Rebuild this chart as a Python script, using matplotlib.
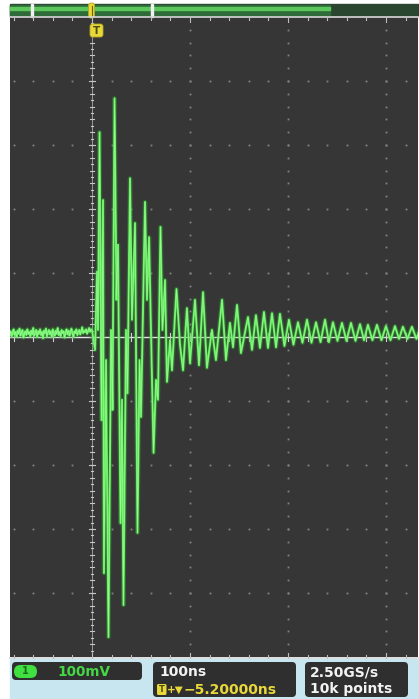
import numpy as np
import matplotlib
matplotlib.use('Agg')
import matplotlib.pyplot as plt
from matplotlib.patches import Rectangle, FancyBboxPatch

W, H = 419, 699

# ---------------- data ----------------
# time in ns relative to trigger, amplitude in mV (100 mV/div, 100 ns/div)
noise_t_ns = np.arange(-84, 0, 1.0)
noise_mv = [4, 9, 1, 7, 12, 3, 8, 0, 10, 5, 13, 2, 7, 11, -1, 6, 9, 3, 12, 5,
            8, 1, 10, 4, 14, 2, 7, 11, 0, 9, 5, 12, 3, 8, -2, 10, 6, 13, 1, 7,
            11, 4, 9, 0, 12, 6, 2, 10, 5, 14, 3, 8, 1, 11, 6, 9, -1, 7, 12, 4,
            10, 2, 8, 13, 5, 0, 9, 6, 12, 3, 7, 11, 4, 9, 15, 6, 10, 8, 12, 5,
            9, 14, 8, 12]

ring_t_ns = [0, 3.1, 5.1, 6.1, 7.7, 9.7, 11.2, 12.2, 14.3, 16.8, 19.4, 20.9,
             23.0, 25.0, 26.5, 29.1, 30.6, 32.1, 34.7, 36.2, 38.8, 40.8, 43.9,
             46.4, 48.5, 50.0, 54.1, 56.1, 58.2, 62.8, 65.3, 67.3, 69.9, 71.9,
             74.5, 76.5, 79.6, 81.6, 86.2, 89.8, 92.9, 96.9, 100.0, 105.1,
             109.2, 113.3, 117.3, 122.4, 126.5, 132.7, 136.7, 140.8, 143.9,
             148.0, 152.0]
ring_mv = [11, -20, 102, 11, 320, -130, 214, -369, -36, -469, 11, -114,
           373, 58, 144, -291, -98, -419, 11, -88, 248, 27, 178,
           -306, -36, -125, 211, 58, 156, -181, -67, -98, 172, 11,
           89, -70, -5, -52, 75, -12, -52, 45, -41, 58,
           -44, 70, -48, 11, -36, 58, -36, 22, -16,
           50, -25]

tail_t_ns = [159.2, 163.3, 167.3, 171.4, 175.5, 179.6, 183.7, 187.8, 191.8,
             196.4, 201.0, 205.6, 210.2, 214.8, 219.4, 224.0, 228.6, 233.2,
             237.8, 241.8, 245.9, 250.5, 255.1, 259.7, 264.3, 268.9, 273.5,
             277.6, 281.6, 286.2, 290.8, 295.4, 300.0, 304.6, 309.2, 313.3,
             317.3, 321.9, 326.5, 331.1, 334.0]
tail_mv = [31, -20, 34, -17, 39, -17, 37, -16, 36,
           -14, 27, -12, 23, -9, 27, -9, 23, -8,
           27, -8, 23, -6, 22, -6, 22, -6, 20,
           -5, 19, -5, 19, -5, 17, -5, 17, -3,
           16, -3, 16, -3, 10]

volts_label = "100mV"
time_label = "100ns"
trig_label = "\u22125.20000ns"
rate_label = "2.50GS/s"
rec_label = "10k points"

# ---------------- figure ----------------
fig = plt.figure(figsize=(W / 100, H / 100), dpi=100)
fig.patch.set_facecolor('white')


def px_rect(x0, y0, x1, y1):
    return [x0 / W, 1 - y1 / H, (x1 - x0) / W, (y1 - y0) / H]


ax = fig.add_axes(px_rect(10, 17, 418, 657))
ax.set_facecolor('#363636')
ax.set_xlim(-83.7, 332.7)
ax.set_ylim(-500, 500)
ax.set_xticks([])
ax.set_yticks([])
for s in ax.spines.values():
    s.set_visible(False)

dot_c = '#858585'
# vertical dotted graticule lines
for gx in [100, 200, 300]:
    ys = np.arange(-480, 500, 20)
    ax.plot(np.full(len(ys), gx), ys, ls='none', marker='s', ms=1.3,
            mec='none', color=dot_c, zorder=1)
# horizontal dotted graticule lines
for gy in [-400, -300, -200, -100, 100, 200, 300, 400]:
    xs = np.arange(-80, 333, 20)
    ax.plot(xs, np.full(len(xs), gy), ls='none', marker='s', ms=1.3,
            mec='none', color=dot_c, zorder=1)

# centre axes with ticks
ax.axhline(0, color='#e6e6e6', lw=1.0, zorder=2)
for tx in np.arange(-80, 333, 20):
    ax.plot([tx, tx], [-6, 6], color='#d0d0d0', lw=0.8, zorder=2)
ax.axvline(0, color='#9a9a9a', lw=0.7, zorder=2)
for ty in np.arange(-490, 500, 10):
    hw = 3.0 if ty % 100 == 0 else (2.0 if ty % 20 == 0 else 1.2)
    ax.plot([-hw, hw], [ty, ty], color='#c8c8c8', lw=0.8, zorder=2)

# waveform
t_all = np.concatenate([noise_t_ns, ring_t_ns, tail_t_ns])
v_all = np.concatenate([noise_mv, ring_mv, tail_mv])
ax.plot(t_all, v_all, color='#2fb52f', lw=3.2, alpha=0.35, zorder=3,
        solid_joinstyle='round')
ax.plot(t_all, v_all, color='#5fe85a', lw=1.5, zorder=4,
        solid_joinstyle='round')
ax.plot(t_all, v_all, color='#a8ffa0', lw=0.5, alpha=0.8, zorder=5,
        solid_joinstyle='round')

# ---------------- overlay (bars, labels) ----------------
ov = fig.add_axes([0, 0, 1, 1])
ov.set_xlim(0, W)
ov.set_ylim(H, 0)
ov.axis('off')
ov.patch.set_alpha(0)

# top record bar
ov.add_patch(Rectangle((10, 4), W - 10, 12, color='#2a4530'))
ov.add_patch(Rectangle((10, 5), 320, 10, color='#2f6b38'))
ov.add_patch(Rectangle((10, 6.5), 320, 3, color='#5cc85c'))
for mx in [32, 152]:
    ov.add_patch(Rectangle((mx - 1, 4), 2.2, 13, color='#f0f0f0'))
# top / bottom borders with ticks
ov.plot([10, W], [17, 17], color='#d8d8d8', lw=1.2)
ov.plot([10, W], [657.5, 657.5], color='#d8d8d8', lw=1.2)
for k in range(-4, 17):
    xx = 92 + k * 19.6
    if 10 <= xx <= W:
        ln = 5 if k % 5 == 0 else 3
        ov.plot([xx, xx], [17, 17 + ln], color='#bdbdbd', lw=0.8)
        ov.plot([xx, xx], [657.5, 657.5 - ln], color='#bdbdbd', lw=0.8)

# trigger markers
ov.add_patch(FancyBboxPatch((88.5, 3), 6, 15, boxstyle='round,pad=0,rounding_size=2.5',
                            fc='#e8d83a', ec='#b8a820', lw=0.6))
ov.plot([91.5, 91.5], [6, 15], color='#6b5f10', lw=0.8)
ov.add_patch(FancyBboxPatch((90, 24), 13, 13, boxstyle='round,pad=0,rounding_size=2.5',
                            fc='#e8d83a', ec='#b8a820', lw=0.6))
ov.text(96.5, 31, 'T', ha='center', va='center', fontsize=7.5, fontweight='bold',
        color='#4a4a10')

# bottom status strip
ov.add_patch(Rectangle((10, 659), W - 10, H - 659, color='#c8e6f0'))
box_c = '#2f2f2f'
ov.add_patch(FancyBboxPatch((12, 662), 130, 18, boxstyle='round,pad=0,rounding_size=4',
                            fc=box_c, ec='none'))
ov.add_patch(FancyBboxPatch((153, 662), 143, 35, boxstyle='round,pad=0,rounding_size=4',
                            fc=box_c, ec='none'))
ov.add_patch(FancyBboxPatch((305, 662), 103, 35, boxstyle='round,pad=0,rounding_size=4',
                            fc=box_c, ec='none'))
# channel badge
ov.add_patch(FancyBboxPatch((14, 665), 23, 13, boxstyle='round,pad=0,rounding_size=6.5',
                            fc='#3fe03f', ec='none'))
ov.text(25.5, 671.5, '1', ha='center', va='center', fontsize=7, fontweight='bold',
        color='#1c6a1c')
ov.text(57, 671.5, volts_label, ha='left', va='center', fontsize=9.8, fontweight='bold',
        color='#45d845')
ov.text(159, 672, time_label, ha='left', va='center', fontsize=10, fontweight='bold',
        color='#f2f2f2')
ov.add_patch(FancyBboxPatch((157, 684), 9.5, 11, boxstyle='round,pad=0,rounding_size=1.5',
                            fc='#e8d83a', ec='none'))
ov.text(161.7, 689.6, 'T', ha='center', va='center', fontsize=6, fontweight='bold',
        color='#4a4a10')
ov.text(167, 689.5, '+\u25BC', ha='left', va='center', fontsize=7.5, fontweight='bold',
        color='#e8d83a')
ov.text(184, 689.5, trig_label, ha='left', va='center', fontsize=10, fontweight='bold',
        color='#e8d83a')
ov.text(310, 672, rate_label, ha='left', va='center', fontsize=10, fontweight='bold',
        color='#f2f2f2')
ov.text(310, 689, rec_label, ha='left', va='center', fontsize=10, fontweight='bold',
        color='#f2f2f2')

fig.savefig('out.png', dpi=100, facecolor='white')
